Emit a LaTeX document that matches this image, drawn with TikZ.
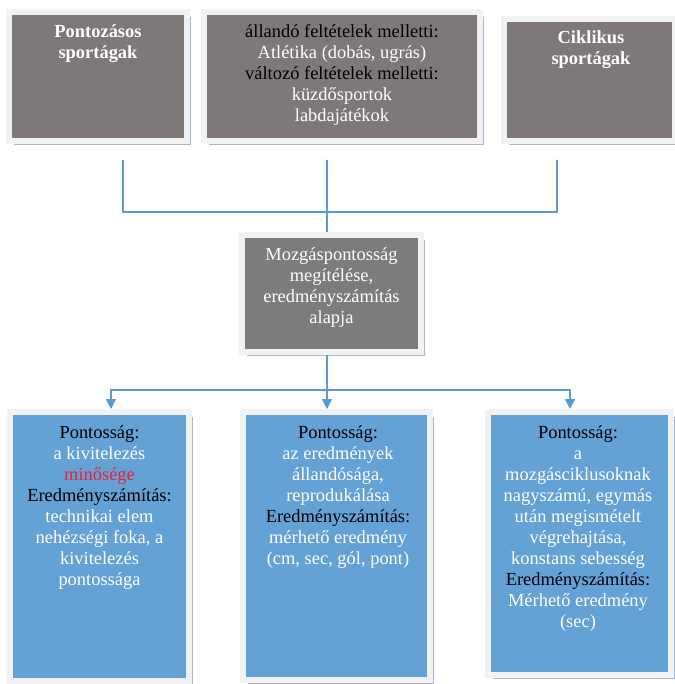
\documentclass[tikz,border=0pt]{standalone}
\usepackage{fontspec}
\setmainfont{Liberation Serif}
\usetikzlibrary{shadows,arrows.meta}
\definecolor{boxgray}{RGB}{127,120,120}
\definecolor{midgray}{RGB}{124,124,124}
\definecolor{boxblue}{RGB}{100,161,213}
\definecolor{framegray}{RGB}{242,242,242}
\definecolor{shadowblue}{RGB}{165,185,208}
\definecolor{linkblue}{RGB}{91,155,213}
\definecolor{hlred}{RGB}{232,32,56}
\newcommand{\darktext}[1]{\textcolor{black}{#1}}

\begin{document}
\begin{tikzpicture}[x=0.02cm,y=-0.02cm,
    box/.style={rectangle,draw=framegray,line width=0.12cm,
      drop shadow={shadow xshift=0.09cm,shadow yshift=-0.09cm,fill=shadowblue,opacity=1}},
    txt/.style={anchor=north,align=center,inner sep=0pt,text=white,
      font=\fontsize{10.5}{12}\selectfont},
    title/.style={txt,font=\fontsize{10.5}{12}\selectfont\bfseries},
    link/.style={draw=linkblue,line width=0.8pt}]
    \useasboundingbox (0,0) rectangle (675,684);

    \node[box,fill=boxgray,minimum width=3.56cm,minimum height=2.58cm] (topL) at (98,76.5) {};
    \node[box,fill=boxgray,minimum width=5.52cm,minimum height=2.58cm] (topM) at (342,76.5) {};
    \node[box,fill=boxgray,minimum width=3.42cm,minimum height=2.44cm] (topR) at (589.5,80) {};
    \node[box,fill=midgray,minimum width=3.58cm,minimum height=2.34cm] (mid) at (331.5,293.5) {};
    \node[box,fill=boxblue,minimum width=3.58cm,minimum height=5.38cm] (botL) at (99.5,546.5) {};
    \node[box,fill=boxblue,minimum width=3.74cm,minimum height=5.36cm] (botM) at (336.5,546) {};
    \node[box,fill=boxblue,minimum width=3.66cm,minimum height=5.26cm] (botR) at (579.5,543.5) {};

    \node[title] (topLtxt) at (98,24.5) {Pontozásos\\sportágak};
    \node[txt] (topMtxt) at (342,24) {\darktext{állandó feltételek melletti:}\\Atlétika (dobás, ugrás)\\
      \darktext{változó feltételek melletti:}\\küzdősportok\\labdajátékok};
    \node[title] (topRtxt) at (591,30) {Ciklikus\\sportágak};
    \node[txt] (midtxt) at (331.5,247) {Mozgáspontosság\\megítélése,\\eredményszámítás\\alapja};
    \node[txt] (botLtxt) at (99.5,425) {\darktext{Pontosság:}\\a kivitelezés\\\textcolor{hlred}{minősége}\\
      \darktext{Eredményszámítás:}\\technikai elem\\nehézségi foka, a\\kivitelezés\\pontossága};
    \node[txt] (botMtxt) at (338,425) {\darktext{Pontosság:}\\az eredmények\\állandósága,\\reprodukálása\\
      \darktext{Eredményszámítás:}\\mérhető eredmény\\(cm, sec, gól, pont)};
    \node[txt] (botRtxt) at (578,425) {\darktext{Pontosság:}\\a\\mozgásciklusoknak\\nagyszámú, egymás\\
      után megismételt\\végrehajtása,\\konstans sebesség\\\darktext{Eredményszámítás:}\\
      Mérhető eredmény\\(sec)};

    \coordinate (dropL) at (123,160);
    \coordinate (dropM) at (327,160);
    \coordinate (dropR) at (557,160);
    \coordinate (bus) at (327,212);
    \coordinate (split) at (327,390);
    \coordinate (tipL) at (111,409);
    \coordinate (tipR) at (570,409);

    \path[link] (dropL) |- (bus) -| (dropR);
    \path[link] (dropM) -- (dropM |- mid.north);
    \path[link] (mid.south -| split) -- (split);
    \path[link,-{Triangle[width=0.2cm,length=0.2cm]}] (split) -| (tipL);
    \path[link,-{Triangle[width=0.2cm,length=0.2cm]}] (split) -- (split |- botM.north);
    \path[link,-{Triangle[width=0.2cm,length=0.2cm]}] (split) -| (tipR);
  \end{tikzpicture}
\end{document}
